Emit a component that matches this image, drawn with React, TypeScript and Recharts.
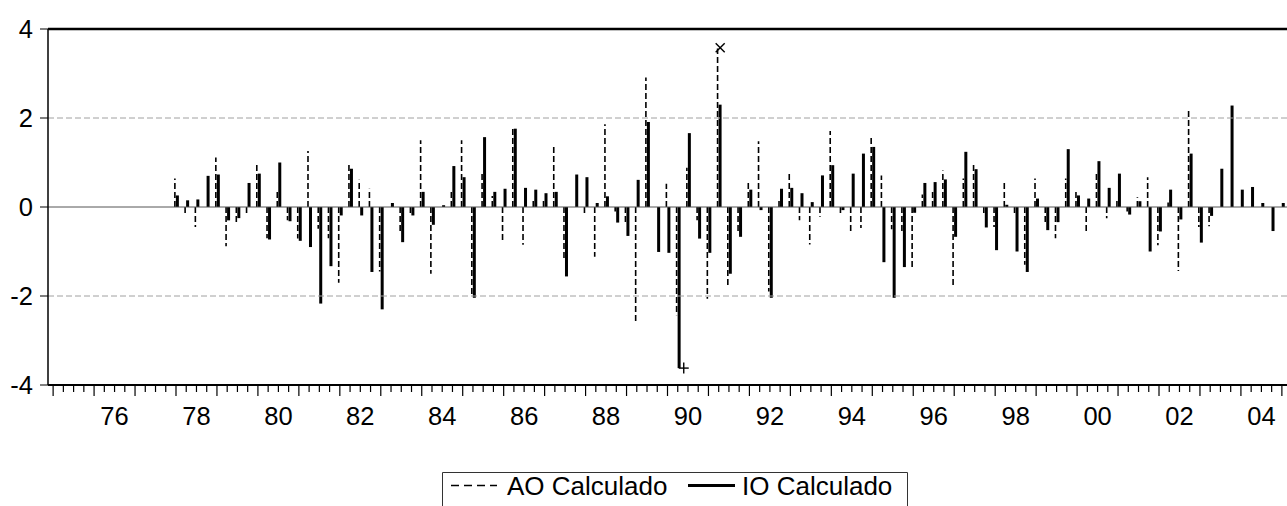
import React from "react";
import { ComposedChart, Bar, Scatter, XAxis, YAxis, ReferenceLine } from "recharts";

const FONT = "'Liberation Sans', Arial, sans-serif";
const FIRST_YEAR = 1975;
const N_OBS = 121; // 1975Q1 .. 2005Q1

const periods: string[] = Array.from(
  { length: N_OBS },
  (_, i) => `${FIRST_YEAR + Math.floor(i / 4)}Q${(i % 4) + 1}`
);

// AO Calculado (dashed spikes)
const aoCalculado: (number | null)[] = [
  null, null, null, null, // 1975
  null, null, null, null, // 1976
  null, null, null, null, // 1977
  0.64, -0.2, -0.45, null, // 1978
  1.11, -0.88, -0.37, -0.16, // 1979
  1.01, -0.7, 0.4, -0.3, // 1980
  -0.71, 1.26, -0.49, -0.7, // 1981
  -1.7, 1.0, 0.61, 0.41, // 1982
  -1.45, null, -0.56, -0.15, // 1983
  1.5, -1.5, null, 0.34, // 1984
  1.5, -2.0, 0.81, 0.25, // 1985
  -0.79, 1.8, -0.85, 0.19, // 1986
  0.2, 1.36, -1.2, null, // 1987
  -0.17, -1.12, 1.86, -0.1, // 1988
  -0.4, -2.57, 2.91, null, // 1989
  0.52, -2.43, 0.88, -0.3, // 1990
  -2.06, 3.56, -1.75, -0.56, // 1991
  0.54, 1.48, -1.9, 0.19, // 1992
  0.79, -0.3, -0.84, -0.22, // 1993
  1.71, -0.16, -0.56, -0.47, // 1994
  1.55, 0.71, -0.5, -0.6, // 1995
  -1.35, 0.28, 0.4, 0.82, // 1996
  -1.75, 0.64, 1.01, -0.2, // 1997
  -0.45, 0.54, -0.2, -1.3, // 1998
  0.64, -0.4, -0.7, 0.64, // 1999
  0.34, -0.58, 0.79, -0.25, // 2000
  0.2, -0.1, 0.22, 0.67, // 2001
  -0.86, 0.1, -1.44, 2.19, // 2002
  -0.45, -0.43, null, null, // 2003
  null, null, null, null, // 2004
  null, // 2005
];

// IO Calculado (solid spikes)
const ioCalculado: (number | null)[] = [
  null, null, null, null, // 1975
  null, null, null, null, // 1976
  null, null, null, null, // 1977
  0.26, 0.15, 0.17, 0.7, // 1978
  0.73, -0.3, -0.25, 0.54, // 1979
  0.75, -0.73, 1.0, -0.32, // 1980
  -0.76, -0.9, -2.17, -1.33, // 1981
  -0.19, 0.86, -0.19, -1.46, // 1982
  -2.3, 0.09, -0.79, -0.19, // 1983
  0.34, -0.4, 0.04, 0.92, // 1984
  0.67, -2.04, 1.57, 0.34, // 1985
  0.41, 1.76, 0.43, 0.39, // 1986
  0.31, 0.34, -1.56, 0.73, // 1987
  0.67, 0.09, 0.24, -0.35, // 1988
  -0.65, 0.61, 1.91, -1.01, // 1989
  -1.03, -3.62, 1.66, -0.71, // 1990
  -1.03, 2.3, -1.5, -0.67, // 1991
  0.39, -0.07, -2.04, 0.41, // 1992
  0.43, 0.31, 0.11, 0.71, // 1993
  0.94, -0.07, 0.75, 1.2, // 1994
  1.35, -1.24, -2.04, -1.35, // 1995
  -0.13, 0.54, 0.56, 0.62, // 1996
  -0.67, 1.24, 0.85, -0.46, // 1997
  -0.97, 0.05, -1.0, -1.46, // 1998
  0.19, -0.52, -0.34, 1.3, // 1999
  0.26, 0.19, 1.03, 0.43, // 2000
  0.75, -0.17, 0.13, -1.0, // 2001
  -0.55, 0.39, -0.28, 1.2, // 2002
  -0.8, -0.2, 0.86, 2.28, // 2003
  0.39, 0.45, 0.09, -0.54, // 2004
  0.09, // 2005
];

// extreme-value markers
const maxMarker = [{ x: 65, y: 3.58 }];
const minMarker = [{ x: 61, y: -3.62 }];

const yTicks = [-4, -2, 0, 2, 4];
const yearTickLabels = ["76", "78", "80", "82", "84", "86", "88", "90", "92", "94", "96", "98", "00", "02", "04"];

const labelAt: Record<number, string> = {};
yearTickLabels.forEach((lab) => {
  const yy = parseInt(lab, 10);
  const year = yy >= 50 ? 1900 + yy : 2000 + yy;
  labelAt[(year - FIRST_YEAR) * 4 + 2] = lab;
});

const data = periods.map((p, i) => ({ x: i, period: p, ao: aoCalculado[i], io: ioCalculado[i] }));
const xTicks = data.map((d) => d.x);

const XTick = (props: any) => {
  const { x, y, payload } = props;
  const i = payload.value as number;
  const major = i % 4 === 0;
  const lab = labelAt[i];
  return (
    <g>
      <line x1={x} x2={x} y1={y} y2={y + (major ? 11 : 7)} stroke="#000" strokeWidth={1.2} />
      {lab ? (
        <text x={x} y={y + 40} textAnchor="middle" fontSize={25.5} fontFamily={FONT} fill="#000">
          {lab}
        </text>
      ) : null}
    </g>
  );
};

const AoSpike = (props: any) => {
  const { x, y, width, height, value } = props;
  if (value == null || !height) return <g />;
  const cx = x + width / 2;
  return (
    <line x1={cx} x2={cx} y1={y + height} y2={y} stroke="#000" strokeWidth={1.6} strokeDasharray="6 3" />
  );
};

const IoSpike = (props: any) => {
  const { x, y, width, height, value } = props;
  if (value == null || !height) return <g />;
  const top = Math.min(y, y + height);
  return <rect x={x} y={top} width={width} height={Math.abs(height)} fill="#000" />;
};

const CrossMarker = (props: any) => {
  const { cx, cy } = props;
  const c = cx + 1.5;
  return (
    <g stroke="#000" strokeWidth={1.4}>
      <line x1={c - 4.5} y1={cy - 4.5} x2={c + 4.5} y2={cy + 4.5} />
      <line x1={c - 4.5} y1={cy + 4.5} x2={c + 4.5} y2={cy - 4.5} />
    </g>
  );
};

const PlusMarker = (props: any) => {
  const { cx, cy } = props;
  const c = cx + 6;
  return (
    <g stroke="#000" strokeWidth={1.4}>
      <line x1={c - 5} y1={cy} x2={c + 5} y2={cy} />
      <line x1={c} y1={cy - 5.5} x2={c} y2={cy + 5.5} />
    </g>
  );
};

export default function App() {
  return (
    <div style={{ position: "relative", width: 1287, height: 506, overflow: "hidden", background: "#fff" }}>
      <style>{"html,body{margin:0;padding:0;overflow:hidden;}"}</style>
      <ComposedChart
        width={1287}
        height={506}
        data={data}
        margin={{ top: 29, right: 0, bottom: 61, left: 8 }}
        barGap={0}
      >
        <XAxis
          dataKey="x"
          type="number"
          domain={[-0.5, 120.5]}
          ticks={xTicks}
          interval={0}
          tickLine={false}
          tickSize={0}
          tickMargin={0}
          height={60}
          axisLine={{ stroke: "#000", strokeWidth: 2 }}
          tick={(p: any) => <XTick {...p} />}
        />
        <YAxis
          type="number"
          domain={[-4, 4]}
          ticks={yTicks}
          interval={0}
          width={40}
          tickSize={8}
          tickMargin={7}
          allowDataOverflow
          axisLine={{ stroke: "#000", strokeWidth: 1.5 }}
          tickLine={{ stroke: "#000", strokeWidth: 1 }}
          tick={{ fill: "#000", fontSize: 25.5, fontFamily: FONT }}
        />
        <ReferenceLine y={2} stroke="#a0a0a0" strokeWidth={1} strokeDasharray="6 3" />
        <ReferenceLine y={-2} stroke="#a0a0a0" strokeWidth={1} strokeDasharray="6 3" />
        <ReferenceLine y={0} stroke="#555" strokeWidth={1} />
        <ReferenceLine y={4} stroke="#000" strokeWidth={2.5} />
        <Bar dataKey="ao" barSize={2} shape={AoSpike} isAnimationActive={false} />
        <Bar dataKey="io" barSize={3} shape={IoSpike} isAnimationActive={false} />
        <Scatter data={maxMarker} dataKey="y" shape={CrossMarker} isAnimationActive={false} />
        <Scatter data={minMarker} dataKey="y" shape={PlusMarker} isAnimationActive={false} />
      </ComposedChart>
      <svg
        width={466}
        height={34}
        style={{ position: "absolute", left: 442, top: 472 }}
      >
        <path d="M0.5,34 V0.5 H465.5 V34" fill="none" stroke="#333" strokeWidth={1} />
        <line x1={9} x2={55} y1={13.5} y2={13.5} stroke="#000" strokeWidth={1.5} strokeDasharray="8 5" />
        <text x={65} y={23} fontSize={26} fontFamily={FONT} fill="#000">AO Calculado</text>
        <line x1={246} x2={293} y1={13.5} y2={13.5} stroke="#000" strokeWidth={3} />
        <text x={300} y={23} fontSize={26} fontFamily={FONT} fill="#000">IO Calculado</text>
      </svg>
    </div>
  );
}
